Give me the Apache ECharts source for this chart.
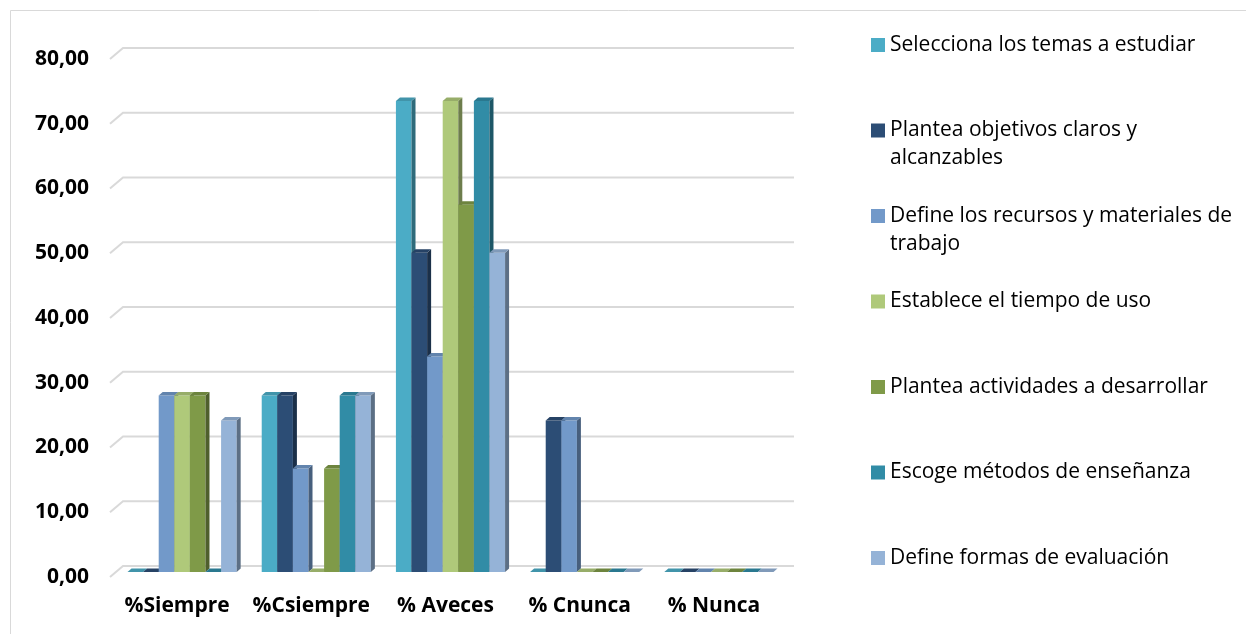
<!DOCTYPE html>
<html>
<head>
<meta charset="utf-8">
<script src="https://cdn.jsdelivr.net/npm/echarts@6/dist/echarts.min.js"></script>
<style>
  html, body { margin: 0; padding: 0; background: #ffffff; }
  #chart { width: 1246px; height: 634px; }
</style>
</head>
<body>
<div id="chart"></div>
<script>
// Categories (x axis)
const categories = ['%Siempre', '%Csiempre', '% Aveces', '% Cnunca', '% Nunca'];

// Series names
const seriesNames = [
  'Selecciona los temas a estudiar',
  'Plantea objetivos claros y alcanzables',
  'Define los recursos y materiales de trabajo',
  'Establece el tiempo de uso',
  'Plantea actividades a desarrollar',
  'Escoge métodos de enseñanza',
  'Define formas de evaluación'
];

// Percentages per category, one array per series
const temas       = [0,     27.27, 72.73, 0,    0];
const objetivos   = [0,     27.27, 49.3,  23.4, 0];
const recursos    = [27.27, 16.0,  33.3,  23.4, 0];
const tiempo      = [27.27, 0,     72.73, 0,    0];
const actividades = [27.27, 16.0,  56.7,  0,    0];
const metodos     = [0,     27.27, 72.73, 0,    0];
const evaluacion  = [23.4,  27.27, 49.3,  0,    0];

// Value axis ticks
const yTicks = [0, 10, 20, 30, 40, 50, 60, 70, 80];

const seriesValues = [temas, objetivos, recursos, tiempo, actividades, metodos, evaluacion];
const colors = ['#4bacc6', '#2c4d75', '#7299c9', '#afc97a', '#7f9a48', '#318ca6', '#95b3d7'];

const FONT = '"Open Sans", "Noto Sans", sans-serif';

// depth of the back wall, position of the bar row inside the depth, bar thickness
const WALL_DX = 13, WALL_DY = 11;
const ROW_DX = 5, ROW_DY = 5;
const BAR_DX = 4, BAR_DY = 3.5;
const BAR_RATIO = 0.1162;

function shade(hex, f) {
  const n = parseInt(hex.slice(1), 16);
  const r = Math.round(((n >> 16) & 255) * f);
  const g = Math.round(((n >> 8) & 255) * f);
  const b = Math.round((n & 255) * f);
  return 'rgb(' + r + ',' + g + ',' + b + ')';
}

function barRenderer(sIdx) {
  const col = colors[sIdx];
  return function (params, api) {
    const c = api.value(0), v = api.value(1);
    const base = api.coord([c, 0]);
    const top = api.coord([c, v]);
    const band = api.size([1, 0])[0];
    const w = band * BAR_RATIO;
    const x0 = base[0] - 3.5 * w + sIdx * w + ROW_DX;
    const x1 = x0 + w;
    const yb = base[1] - ROW_DY;
    const yt = top[1] - ROW_DY;
    const children = [];
    if (yb - yt > 0.5) {
      children.push({
        type: 'rect',
        shape: { x: x0, y: yt, width: w, height: yb - yt },
        style: { fill: col }
      });
      children.push({
        type: 'polygon',
        shape: { points: [[x1, yt], [x1 + BAR_DX, yt - BAR_DY], [x1 + BAR_DX, yb - BAR_DY], [x1, yb]] },
        style: { fill: shade(col, 0.62) }
      });
    }
    children.push({
      type: 'polygon',
      shape: { points: [[x0, yt], [x0 + BAR_DX, yt - BAR_DY], [x1 + BAR_DX, yt - BAR_DY], [x1, yt]] },
      style: { fill: shade(col, 0.86) }
    });
    return { type: 'group', children: children };
  };
}

function gridRenderer(params, api) {
  const v = api.value(1);
  const p = api.coord([0, v]);
  const cs = params.coordSys;
  const x = cs.x, y = p[1];
  return {
    type: 'polyline',
    shape: { points: [[x, y], [x + WALL_DX, y - WALL_DY], [x + cs.width + WALL_DX, y - WALL_DY]] },
    style: { stroke: '#d9d9d9', lineWidth: 2, fill: null }
  };
}

// legend text wrapped into lines of at most 35 characters
function wrapName(name) {
  const words = name.split(' ');
  const lines = [];
  let cur = '';
  words.forEach(function (wd) {
    const next = cur ? cur + ' ' + wd : wd;
    if (next.length > 35 && cur) { lines.push(cur); cur = wd; } else { cur = next; }
  });
  lines.push(cur);
  return lines;
}

const legendRich = {
  t: { fontFamily: FONT, fontSize: 21, color: '#000', lineHeight: 28 },
  g: { width: 5, height: 14, lineHeight: 28 },
  p: { width: 19, height: 14, lineHeight: 28 }
};
colors.forEach(function (c, i) {
  legendRich['q' + i] = { width: 14, height: 14, backgroundColor: c, lineHeight: 28 };
});

const series = [{
  type: 'custom',
  name: 'grid',
  renderItem: gridRenderer,
  data: yTicks.map(function (v) { return [0, v]; }),
  clip: false,
  silent: true,
  z: 1
}];
seriesNames.forEach(function (name, i) {
  series.push({
    type: 'custom',
    name: name,
    renderItem: barRenderer(i),
    data: seriesValues[i].map(function (v, c) { return [c, v]; }),
    itemStyle: { color: colors[i] },
    clip: false,
    z: 2
  });
});

const chart = echarts.init(document.getElementById('chart'), null, { renderer: 'canvas' });
chart.setOption({
  backgroundColor: '#ffffff',
  animation: false,
  graphic: [{
    type: 'rect',
    shape: { x: 10.5, y: 10.5, width: 1300, height: 700 },
    style: { fill: null, stroke: '#d9d9d9', lineWidth: 1 },
    silent: true
  }],
  grid: { left: 110, right: 465, top: 59, bottom: 57, containLabel: false },
  xAxis: {
    type: 'category',
    data: categories,
    axisLine: { show: false },
    axisTick: { show: false },
    splitLine: { show: false },
    axisLabel: {
      interval: 0,
      margin: 19,
      color: '#000',
      fontFamily: FONT,
      fontWeight: 'bold',
      fontSize: 21
    }
  },
  yAxis: {
    type: 'value',
    min: 0,
    max: 80,
    interval: 10,
    axisLine: { show: false },
    axisTick: { show: false },
    splitLine: { show: false },
    axisLabel: {
      margin: 21,
      color: '#000',
      fontFamily: FONT,
      fontWeight: 'bold',
      fontSize: 21,
      formatter: function (v) { return v.toFixed(2).replace('.', ','); }
    }
  },
  legend: {
    orient: 'vertical',
    left: 866,
    top: 31,
    padding: 0,
    itemGap: 29.5,
    itemWidth: 0,
    itemHeight: 14,
    itemStyle: { opacity: 0 },
    selectedMode: false,
    data: seriesNames,
    textStyle: { rich: legendRich, lineHeight: 28 },
    formatter: function (name) {
      const i = seriesNames.indexOf(name);
      const lines = wrapName(name);
      const first = '{q' + i + '|}{g|}{t|' + lines[0] + '}';
      const second = lines[1] ? '{p|}{t|' + lines[1] + '}' : '{p|}';
      return first + '\n' + second;
    }
  },
  series: series
});
</script>
</body>
</html>
